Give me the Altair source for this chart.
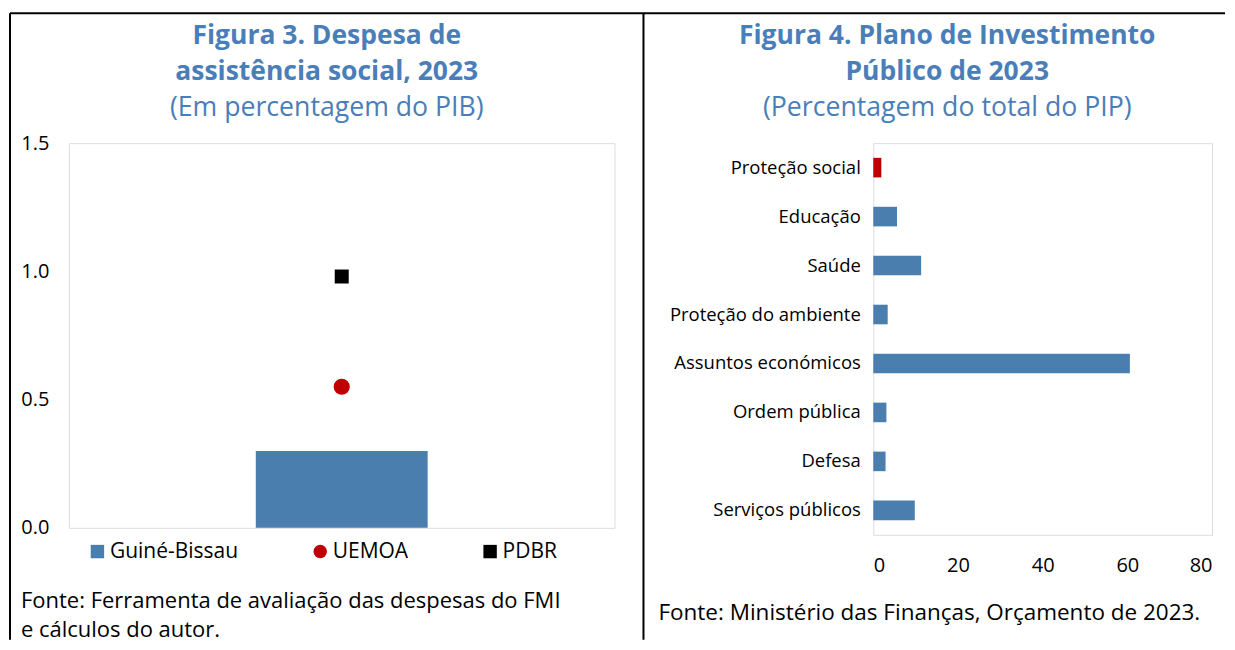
import altair as alt
import pandas as pd

# ---- Figure 3 data ----
series = ["Guiné-Bissau", "UEMOA", "PDBR"]
series_values = [0.30, 0.55, 0.98]
series_colors = ["#4a7eae", "#c00000", "#000000"]
series_shapes = ["square", "circle", "square"]
fig3_ticks = [0.0, 0.5, 1.0, 1.5]

# ---- Figure 4 data ----
sectors = ["Proteção social", "Educação", "Saúde", "Proteção do ambiente",
           "Assuntos económicos", "Ordem pública", "Defesa", "Serviços públicos"]
sector_values = [1.9, 5.6, 11.3, 3.4, 60.6, 3.1, 2.9, 9.8]
sector_highlight = ["Sim", "Não", "Não", "Não", "Não", "Não", "Não", "Não"]
fig4_ticks = [0, 20, 40, 60, 80]

title_color = "#4a7eb9"
FONT = "Open Sans"

df3 = pd.DataFrame({"cat": ["2023"] * 3, "series": series, "value": series_values})
df4 = pd.DataFrame({"sector": sectors, "value": sector_values, "hl": sector_highlight})
one = alt.Data(values=[{"k": 1}])

leg = alt.Legend(title=None, orient="none", legendX=18, legendY=398,
                 direction="horizontal", columns=3, columnPadding=71,
                 labelFont=FONT, labelFontSize=21, labelColor="#000",
                 symbolSize=180, symbolStrokeWidth=0, labelOffset=2)
color3 = alt.Color("series:N", sort=series,
                   scale=alt.Scale(domain=series, range=series_colors), legend=leg)
shape3 = alt.Shape("series:N", sort=series,
                   scale=alt.Scale(domain=series, range=series_shapes), legend=leg)

y3 = alt.Y("value:Q", scale=alt.Scale(domain=[0, 1.5]),
           axis=alt.Axis(title=None, values=fig3_ticks, format=".1f", domain=False, ticks=False,
                         grid=False, labelFont=FONT, labelFontSize=20, labelColor="#000",
                         labelPadding=20))
x3 = alt.X("cat:N", axis=None)

bar3 = alt.Chart(df3).transform_filter(alt.datum.series == "Guiné-Bissau").mark_bar(size=172).encode(
    x=x3, y=y3, color=color3, shape=shape3)
circ3 = alt.Chart(df3).transform_filter(alt.datum.series == "UEMOA").mark_point(
    filled=True, opacity=1, size=260).encode(x=x3, y=y3, color=color3, shape=shape3)
sq3 = alt.Chart(df3).transform_filter(alt.datum.series == "PDBR").mark_point(
    filled=True, opacity=1, size=196).encode(x=x3, y=y3, color=color3, shape=shape3)


def text_layer(txt, x, y, size, weight="normal", color="#000", align="center", font=FONT):
    return alt.Chart(one).mark_text(align=align, baseline="middle", fontSize=size, fontWeight=weight,
                                    color=color, font=font).encode(
        x=alt.value(x), y=alt.value(y), text=alt.value(txt))


def rule_layer(x, x2, y, y2):
    return alt.Chart(one).mark_rule(color="#000", strokeWidth=2).encode(
        x=alt.value(x), x2=alt.value(x2), y=alt.value(y), y2=alt.value(y2))


left = alt.layer(
    bar3, circ3, sq3,
    text_layer("Figura 3. Despesa de", 258, -107, 26.5, "bold", title_color),
    text_layer("assistência social, 2023", 258, -71, 26.5, "bold", title_color),
    text_layer("(Em percentagem do PIB)", 258, -35, 26.7, "normal", title_color),
    text_layer("Fonte: Ferramenta de avaliação das despesas do FMI", -48, 458, 22, align="left"),
    text_layer("e cálculos do autor.", -48, 487, 22, align="left"),
    rule_layer(-59, -59, -130, 497),
    rule_layer(-59, 1157, -130, -130),
    rule_layer(575, 575, -130, 497),
).properties(width=546, height=385)

color4 = alt.Color("hl:N", scale=alt.Scale(domain=["Sim", "Não"], range=["#c00000", "#4a7eae"]),
                   legend=None)
bar4 = alt.Chart(df4).mark_bar().encode(
    y=alt.Y("sector:N", sort=sectors,
            scale=alt.Scale(paddingInner=0.6, paddingOuter=0.3),
            axis=alt.Axis(title=None, domain=False, ticks=False, labelFont=FONT, labelFontSize=18.5,
                          labelColor="#000", labelPadding=13, labelLimit=300)),
    x=alt.X("value:Q", scale=alt.Scale(domain=[0, 80]),
            axis=alt.Axis(title=None, values=fig4_ticks, domain=False, ticks=False, grid=False,
                          labelFont=FONT, labelFontSize=20, labelColor="#000", labelPadding=21)),
    color=color4,
)

right = alt.layer(
    bar4,
    text_layer("Figura 4.  Plano de Investimento", 74, -107, 26.5, "bold", title_color),
    text_layer("Público de 2023", 74, -71, 26.5, "bold", title_color),
    text_layer("(Percentagem do total do PIP)", 74, -35, 26.7, "normal", title_color),
    text_layer("Fonte: Ministério das Finanças, Orçamento de 2023.", -215, 470, 22.5, align="left"),
).properties(width=339, height=392)

chart = alt.hconcat(left, right, spacing=259, bounds="flush").resolve_scale(
    color="independent", shape="independent"
).resolve_legend(color="independent", shape="independent").properties(
    padding={"left": 0, "top": 3, "right": 0, "bottom": 2}
).configure_view(stroke="#bfbfbf", strokeWidth=2).configure(background="white")

chart.save("out.html", embed_options={"renderer": "svg", "actions": False})
